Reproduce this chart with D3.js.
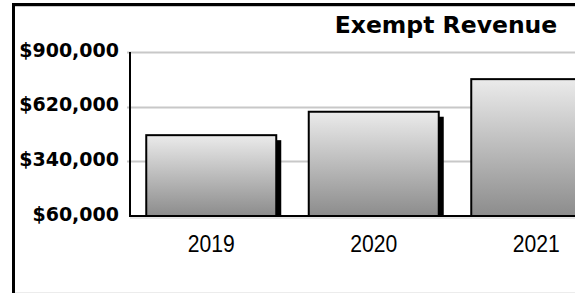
<!DOCTYPE html>
<html>
<head>
<meta charset="utf-8">
<script src="https://cdn.jsdelivr.net/npm/d3@7"></script>
<style>
  html, body { margin: 0; padding: 0; background: #fff; }
  svg { display: block; }
</style>
</head>
<body>
<div class="viz"></div>
<script>
// chart data
const years = ["2019", "2020", "2021"];
const revenue = [474000, 594000, 761000];
const tickValues = [60000, 340000, 620000, 900000];
const title = "Exempt Revenue";

const width = 575, height = 293;
const plot = { left: 130, top: 52, bottom: 216 };

const svg = d3.select(".viz").append("svg")
    .attr("width", width)
    .attr("height", height);

const defs = svg.append("defs");
const grad = defs.append("linearGradient")
    .attr("id", "barGrad")
    .attr("x1", 0).attr("y1", 0).attr("x2", 0).attr("y2", 1);
grad.append("stop").attr("offset", "0%").attr("stop-color", "#ebebeb");
grad.append("stop").attr("offset", "100%").attr("stop-color", "#8c8c8c");

// frame (right and bottom run off the picture)
svg.append("line")
    .attr("x1", 14).attr("x2", width).attr("y1", 6.5).attr("y2", 6.5)
    .attr("stroke", "#c8c8c8").attr("stroke-width", 1);
svg.append("path")
    .attr("d", "M13.5,293 V4.5 H575")
    .attr("fill", "none")
    .attr("stroke", "#000")
    .attr("stroke-width", 3);
svg.append("line")
    .attr("x1", 15).attr("x2", width).attr("y1", 292.5).attr("y2", 292.5)
    .attr("stroke", "#ececec").attr("stroke-width", 1);

// title
svg.append("text")
    .attr("x", 446)
    .attr("y", 33)
    .attr("text-anchor", "middle")
    .style("font-family", "'DejaVu Sans', Verdana, sans-serif")
    .style("font-weight", "bold")
    .style("font-size", "23.5px")
    .attr("fill", "#000")
    .text(title);

// scales
let x = d3.scaleBand()
    .domain(years)
    .range([plot.left, plot.left + 162.5 * years.length])
    .paddingInner(0.2)
    .paddingOuter(0.1);

let y = d3.scaleLinear()
    .domain([60000, 900000])
    .range([plot.bottom, plot.top]);

// gridlines
svg.append("g")
    .selectAll("line")
    .data(tickValues.slice(1))
    .enter().append("line")
    .attr("x1", plot.left - 3)
    .attr("x2", width)
    .attr("y1", d => Math.round(y(d)) + 0.5)
    .attr("y2", d => Math.round(y(d)) + 0.5)
    .attr("stroke", "#c8c8c8")
    .attr("stroke-width", 2);

// y axis labels
const yAxis = d3.axisLeft(y)
    .tickValues(tickValues)
    .tickSize(0)
    .tickPadding(11)
    .tickFormat(d => "$" + d3.format(",")(d));

const yg = svg.append("g")
    .attr("transform", "translate(" + plot.left + ",0)")
    .call(yAxis);
yg.select(".domain").remove();
yg.selectAll("text")
    .style("font-family", "'DejaVu Sans', Verdana, sans-serif")
    .style("font-weight", "bold")
    .style("font-size", "19px")
    .attr("fill", "#000")
    .attr("dy", "0.22em");

// bars: shadow then body
const bars = svg.append("g");
bars.selectAll("rect.shadow")
    .data(revenue)
    .enter().append("rect")
    .attr("class", "shadow")
    .attr("x", (d, i) => x(years[i]) + 5)
    .attr("y", d => y(d) + 5)
    .attr("width", x.bandwidth())
    .attr("height", d => plot.bottom - y(d) - 5)
    .attr("fill", "#000");

bars.selectAll("rect.bar")
    .data(revenue)
    .enter().append("rect")
    .attr("class", "bar")
    .attr("x", (d, i) => x(years[i]))
    .attr("y", d => y(d))
    .attr("width", x.bandwidth())
    .attr("height", d => plot.bottom - y(d))
    .attr("fill", "url(#barGrad)")
    .attr("stroke", "#000")
    .attr("stroke-width", 2);

// axis lines
svg.append("line")
    .attr("x1", plot.left).attr("x2", width)
    .attr("y1", plot.bottom + 2).attr("y2", plot.bottom + 2)
    .attr("stroke", "#d0d0d0").attr("stroke-width", 1);
svg.append("line")
    .attr("x1", plot.left - 1).attr("x2", width)
    .attr("y1", plot.bottom).attr("y2", plot.bottom)
    .attr("stroke", "#000").attr("stroke-width", 2);
svg.append("line")
    .attr("x1", plot.left).attr("x2", plot.left)
    .attr("y1", plot.top).attr("y2", plot.bottom + 1)
    .attr("stroke", "#000").attr("stroke-width", 2);

// x axis labels
const xAxis = d3.axisBottom(x).tickSize(0).tickPadding(19);
const xg = svg.append("g")
    .attr("transform", "translate(0," + plot.bottom + ")")
    .call(xAxis);
xg.select(".domain").remove();
xg.selectAll("text")
    .style("font-family", "'Liberation Sans', Arial, sans-serif")
    .style("font-size", "24px")
    .attr("transform", "scale(0.88,1)")
    .attr("fill", "#000");
</script>
</body>
</html>
